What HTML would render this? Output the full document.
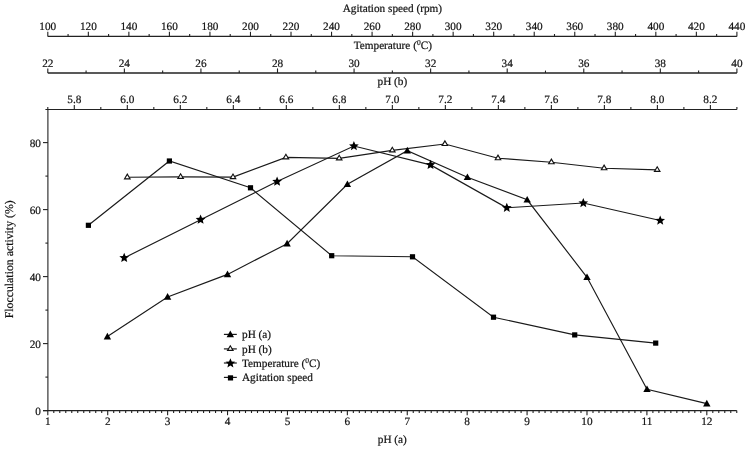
<!DOCTYPE html>
<html><head><meta charset="utf-8"><style>
html,body{margin:0;padding:0;background:#fff;}
body{width:747px;height:449px;overflow:hidden;}
svg{display:block;filter:blur(0.3px);}
text{font-family:"Liberation Serif",serif;fill:#111;stroke:#111;stroke-width:0.2px;text-rendering:geometricPrecision;}
</style></head><body>
<svg width="747" height="449" viewBox="0 0 747 449">
<rect width="747" height="449" fill="#fff"/>
<line x1="47.80" y1="36.40" x2="736.90" y2="36.40" stroke="#222" stroke-width="1.2"/>
<line x1="47.80" y1="36.40" x2="47.80" y2="31.80" stroke="#222" stroke-width="1.1"/>
<text x="47.80" y="29.80" text-anchor="middle" font-size="11.25" >100</text>
<line x1="68.07" y1="36.40" x2="68.07" y2="34.00" stroke="#222" stroke-width="1.1"/>
<line x1="88.34" y1="36.40" x2="88.34" y2="31.80" stroke="#222" stroke-width="1.1"/>
<text x="88.34" y="29.80" text-anchor="middle" font-size="11.25" >120</text>
<line x1="108.60" y1="36.40" x2="108.60" y2="34.00" stroke="#222" stroke-width="1.1"/>
<line x1="128.87" y1="36.40" x2="128.87" y2="31.80" stroke="#222" stroke-width="1.1"/>
<text x="128.87" y="29.80" text-anchor="middle" font-size="11.25" >140</text>
<line x1="149.14" y1="36.40" x2="149.14" y2="34.00" stroke="#222" stroke-width="1.1"/>
<line x1="169.41" y1="36.40" x2="169.41" y2="31.80" stroke="#222" stroke-width="1.1"/>
<text x="169.41" y="29.80" text-anchor="middle" font-size="11.25" >160</text>
<line x1="189.67" y1="36.40" x2="189.67" y2="34.00" stroke="#222" stroke-width="1.1"/>
<line x1="209.94" y1="36.40" x2="209.94" y2="31.80" stroke="#222" stroke-width="1.1"/>
<text x="209.94" y="29.80" text-anchor="middle" font-size="11.25" >180</text>
<line x1="230.21" y1="36.40" x2="230.21" y2="34.00" stroke="#222" stroke-width="1.1"/>
<line x1="250.48" y1="36.40" x2="250.48" y2="31.80" stroke="#222" stroke-width="1.1"/>
<text x="250.48" y="29.80" text-anchor="middle" font-size="11.25" >200</text>
<line x1="270.74" y1="36.40" x2="270.74" y2="34.00" stroke="#222" stroke-width="1.1"/>
<line x1="291.01" y1="36.40" x2="291.01" y2="31.80" stroke="#222" stroke-width="1.1"/>
<text x="291.01" y="29.80" text-anchor="middle" font-size="11.25" >220</text>
<line x1="311.28" y1="36.40" x2="311.28" y2="34.00" stroke="#222" stroke-width="1.1"/>
<line x1="331.55" y1="36.40" x2="331.55" y2="31.80" stroke="#222" stroke-width="1.1"/>
<text x="331.55" y="29.80" text-anchor="middle" font-size="11.25" >240</text>
<line x1="351.81" y1="36.40" x2="351.81" y2="34.00" stroke="#222" stroke-width="1.1"/>
<line x1="372.08" y1="36.40" x2="372.08" y2="31.80" stroke="#222" stroke-width="1.1"/>
<text x="372.08" y="29.80" text-anchor="middle" font-size="11.25" >260</text>
<line x1="392.35" y1="36.40" x2="392.35" y2="34.00" stroke="#222" stroke-width="1.1"/>
<line x1="412.62" y1="36.40" x2="412.62" y2="31.80" stroke="#222" stroke-width="1.1"/>
<text x="412.62" y="29.80" text-anchor="middle" font-size="11.25" >280</text>
<line x1="432.89" y1="36.40" x2="432.89" y2="34.00" stroke="#222" stroke-width="1.1"/>
<line x1="453.15" y1="36.40" x2="453.15" y2="31.80" stroke="#222" stroke-width="1.1"/>
<text x="453.15" y="29.80" text-anchor="middle" font-size="11.25" >300</text>
<line x1="473.42" y1="36.40" x2="473.42" y2="34.00" stroke="#222" stroke-width="1.1"/>
<line x1="493.69" y1="36.40" x2="493.69" y2="31.80" stroke="#222" stroke-width="1.1"/>
<text x="493.69" y="29.80" text-anchor="middle" font-size="11.25" >320</text>
<line x1="513.96" y1="36.40" x2="513.96" y2="34.00" stroke="#222" stroke-width="1.1"/>
<line x1="534.22" y1="36.40" x2="534.22" y2="31.80" stroke="#222" stroke-width="1.1"/>
<text x="534.22" y="29.80" text-anchor="middle" font-size="11.25" >340</text>
<line x1="554.49" y1="36.40" x2="554.49" y2="34.00" stroke="#222" stroke-width="1.1"/>
<line x1="574.76" y1="36.40" x2="574.76" y2="31.80" stroke="#222" stroke-width="1.1"/>
<text x="574.76" y="29.80" text-anchor="middle" font-size="11.25" >360</text>
<line x1="595.03" y1="36.40" x2="595.03" y2="34.00" stroke="#222" stroke-width="1.1"/>
<line x1="615.29" y1="36.40" x2="615.29" y2="31.80" stroke="#222" stroke-width="1.1"/>
<text x="615.29" y="29.80" text-anchor="middle" font-size="11.25" >380</text>
<line x1="635.56" y1="36.40" x2="635.56" y2="34.00" stroke="#222" stroke-width="1.1"/>
<line x1="655.83" y1="36.40" x2="655.83" y2="31.80" stroke="#222" stroke-width="1.1"/>
<text x="655.83" y="29.80" text-anchor="middle" font-size="11.25" >400</text>
<line x1="676.10" y1="36.40" x2="676.10" y2="34.00" stroke="#222" stroke-width="1.1"/>
<line x1="696.36" y1="36.40" x2="696.36" y2="31.80" stroke="#222" stroke-width="1.1"/>
<text x="696.36" y="29.80" text-anchor="middle" font-size="11.25" >420</text>
<line x1="716.63" y1="36.40" x2="716.63" y2="34.00" stroke="#222" stroke-width="1.1"/>
<line x1="736.90" y1="36.40" x2="736.90" y2="31.80" stroke="#222" stroke-width="1.1"/>
<text x="736.90" y="29.80" text-anchor="middle" font-size="11.25" >440</text>
<text x="392.40" y="11.90" text-anchor="middle" font-size="11.25" >Agitation speed (rpm)</text>
<line x1="47.80" y1="73.00" x2="736.90" y2="73.00" stroke="#222" stroke-width="1.45"/>
<line x1="47.80" y1="73.00" x2="47.80" y2="68.40" stroke="#222" stroke-width="1.1"/>
<text x="47.80" y="66.60" text-anchor="middle" font-size="11.25" >22</text>
<line x1="86.08" y1="73.00" x2="86.08" y2="70.60" stroke="#222" stroke-width="1.1"/>
<line x1="124.37" y1="73.00" x2="124.37" y2="68.40" stroke="#222" stroke-width="1.1"/>
<text x="124.37" y="66.60" text-anchor="middle" font-size="11.25" >24</text>
<line x1="162.65" y1="73.00" x2="162.65" y2="70.60" stroke="#222" stroke-width="1.1"/>
<line x1="200.93" y1="73.00" x2="200.93" y2="68.40" stroke="#222" stroke-width="1.1"/>
<text x="200.93" y="66.60" text-anchor="middle" font-size="11.25" >26</text>
<line x1="239.22" y1="73.00" x2="239.22" y2="70.60" stroke="#222" stroke-width="1.1"/>
<line x1="277.50" y1="73.00" x2="277.50" y2="68.40" stroke="#222" stroke-width="1.1"/>
<text x="277.50" y="66.60" text-anchor="middle" font-size="11.25" >28</text>
<line x1="315.78" y1="73.00" x2="315.78" y2="70.60" stroke="#222" stroke-width="1.1"/>
<line x1="354.07" y1="73.00" x2="354.07" y2="68.40" stroke="#222" stroke-width="1.1"/>
<text x="354.07" y="66.60" text-anchor="middle" font-size="11.25" >30</text>
<line x1="392.35" y1="73.00" x2="392.35" y2="70.60" stroke="#222" stroke-width="1.1"/>
<line x1="430.63" y1="73.00" x2="430.63" y2="68.40" stroke="#222" stroke-width="1.1"/>
<text x="430.63" y="66.60" text-anchor="middle" font-size="11.25" >32</text>
<line x1="468.92" y1="73.00" x2="468.92" y2="70.60" stroke="#222" stroke-width="1.1"/>
<line x1="507.20" y1="73.00" x2="507.20" y2="68.40" stroke="#222" stroke-width="1.1"/>
<text x="507.20" y="66.60" text-anchor="middle" font-size="11.25" >34</text>
<line x1="545.48" y1="73.00" x2="545.48" y2="70.60" stroke="#222" stroke-width="1.1"/>
<line x1="583.77" y1="73.00" x2="583.77" y2="68.40" stroke="#222" stroke-width="1.1"/>
<text x="583.77" y="66.60" text-anchor="middle" font-size="11.25" >36</text>
<line x1="622.05" y1="73.00" x2="622.05" y2="70.60" stroke="#222" stroke-width="1.1"/>
<line x1="660.33" y1="73.00" x2="660.33" y2="68.40" stroke="#222" stroke-width="1.1"/>
<text x="660.33" y="66.60" text-anchor="middle" font-size="11.25" >38</text>
<line x1="698.62" y1="73.00" x2="698.62" y2="70.60" stroke="#222" stroke-width="1.1"/>
<line x1="736.90" y1="73.00" x2="736.90" y2="68.40" stroke="#222" stroke-width="1.1"/>
<text x="736.90" y="66.60" text-anchor="middle" font-size="11.25" >40</text>
<text x="392.8" y="48.7" text-anchor="middle" font-size="11.25">Temperature (<tspan font-size="7.5" dy="-4">0</tspan><tspan dy="4">C)</tspan></text>
<line x1="45.40" y1="109.50" x2="736.90" y2="109.50" stroke="#222" stroke-width="1.2"/>
<line x1="47.80" y1="109.50" x2="47.80" y2="107.10" stroke="#222" stroke-width="1.1"/>
<line x1="74.30" y1="109.50" x2="74.30" y2="104.90" stroke="#222" stroke-width="1.1"/>
<text x="74.30" y="103.10" text-anchor="middle" font-size="11.25" >5.8</text>
<line x1="100.81" y1="109.50" x2="100.81" y2="107.10" stroke="#222" stroke-width="1.1"/>
<line x1="127.31" y1="109.50" x2="127.31" y2="104.90" stroke="#222" stroke-width="1.1"/>
<text x="127.31" y="103.10" text-anchor="middle" font-size="11.25" >6.0</text>
<line x1="153.82" y1="109.50" x2="153.82" y2="107.10" stroke="#222" stroke-width="1.1"/>
<line x1="180.32" y1="109.50" x2="180.32" y2="104.90" stroke="#222" stroke-width="1.1"/>
<text x="180.32" y="103.10" text-anchor="middle" font-size="11.25" >6.2</text>
<line x1="206.82" y1="109.50" x2="206.82" y2="107.10" stroke="#222" stroke-width="1.1"/>
<line x1="233.33" y1="109.50" x2="233.33" y2="104.90" stroke="#222" stroke-width="1.1"/>
<text x="233.33" y="103.10" text-anchor="middle" font-size="11.25" >6.4</text>
<line x1="259.83" y1="109.50" x2="259.83" y2="107.10" stroke="#222" stroke-width="1.1"/>
<line x1="286.33" y1="109.50" x2="286.33" y2="104.90" stroke="#222" stroke-width="1.1"/>
<text x="286.33" y="103.10" text-anchor="middle" font-size="11.25" >6.6</text>
<line x1="312.84" y1="109.50" x2="312.84" y2="107.10" stroke="#222" stroke-width="1.1"/>
<line x1="339.34" y1="109.50" x2="339.34" y2="104.90" stroke="#222" stroke-width="1.1"/>
<text x="339.34" y="103.10" text-anchor="middle" font-size="11.25" >6.8</text>
<line x1="365.85" y1="109.50" x2="365.85" y2="107.10" stroke="#222" stroke-width="1.1"/>
<line x1="392.35" y1="109.50" x2="392.35" y2="104.90" stroke="#222" stroke-width="1.1"/>
<text x="392.35" y="103.10" text-anchor="middle" font-size="11.25" >7.0</text>
<line x1="418.85" y1="109.50" x2="418.85" y2="107.10" stroke="#222" stroke-width="1.1"/>
<line x1="445.36" y1="109.50" x2="445.36" y2="104.90" stroke="#222" stroke-width="1.1"/>
<text x="445.36" y="103.10" text-anchor="middle" font-size="11.25" >7.2</text>
<line x1="471.86" y1="109.50" x2="471.86" y2="107.10" stroke="#222" stroke-width="1.1"/>
<line x1="498.37" y1="109.50" x2="498.37" y2="104.90" stroke="#222" stroke-width="1.1"/>
<text x="498.37" y="103.10" text-anchor="middle" font-size="11.25" >7.4</text>
<line x1="524.87" y1="109.50" x2="524.87" y2="107.10" stroke="#222" stroke-width="1.1"/>
<line x1="551.37" y1="109.50" x2="551.37" y2="104.90" stroke="#222" stroke-width="1.1"/>
<text x="551.37" y="103.10" text-anchor="middle" font-size="11.25" >7.6</text>
<line x1="577.88" y1="109.50" x2="577.88" y2="107.10" stroke="#222" stroke-width="1.1"/>
<line x1="604.38" y1="109.50" x2="604.38" y2="104.90" stroke="#222" stroke-width="1.1"/>
<text x="604.38" y="103.10" text-anchor="middle" font-size="11.25" >7.8</text>
<line x1="630.88" y1="109.50" x2="630.88" y2="107.10" stroke="#222" stroke-width="1.1"/>
<line x1="657.39" y1="109.50" x2="657.39" y2="104.90" stroke="#222" stroke-width="1.1"/>
<text x="657.39" y="103.10" text-anchor="middle" font-size="11.25" >8.0</text>
<line x1="683.89" y1="109.50" x2="683.89" y2="107.10" stroke="#222" stroke-width="1.1"/>
<line x1="710.40" y1="109.50" x2="710.40" y2="104.90" stroke="#222" stroke-width="1.1"/>
<text x="710.40" y="103.10" text-anchor="middle" font-size="11.25" >8.2</text>
<line x1="736.90" y1="109.50" x2="736.90" y2="107.10" stroke="#222" stroke-width="1.1"/>
<text x="392.40" y="85.30" text-anchor="middle" font-size="11.25" >pH (b)</text>
<line x1="47.90" y1="109.50" x2="47.90" y2="410.60" stroke="#222" stroke-width="1.1"/>
<line x1="47.90" y1="410.60" x2="43.00" y2="410.60" stroke="#222" stroke-width="1.1"/>
<text x="40.90" y="414.70" text-anchor="end" font-size="11.25" >0</text>
<line x1="47.90" y1="377.10" x2="45.40" y2="377.10" stroke="#222" stroke-width="1.1"/>
<line x1="47.90" y1="343.60" x2="43.00" y2="343.60" stroke="#222" stroke-width="1.1"/>
<text x="40.90" y="347.70" text-anchor="end" font-size="11.25" >20</text>
<line x1="47.90" y1="310.10" x2="45.40" y2="310.10" stroke="#222" stroke-width="1.1"/>
<line x1="47.90" y1="276.60" x2="43.00" y2="276.60" stroke="#222" stroke-width="1.1"/>
<text x="40.90" y="280.70" text-anchor="end" font-size="11.25" >40</text>
<line x1="47.90" y1="243.10" x2="45.40" y2="243.10" stroke="#222" stroke-width="1.1"/>
<line x1="47.90" y1="209.60" x2="43.00" y2="209.60" stroke="#222" stroke-width="1.1"/>
<text x="40.90" y="213.70" text-anchor="end" font-size="11.25" >60</text>
<line x1="47.90" y1="176.10" x2="45.40" y2="176.10" stroke="#222" stroke-width="1.1"/>
<line x1="47.90" y1="142.60" x2="43.00" y2="142.60" stroke="#222" stroke-width="1.1"/>
<text x="40.90" y="146.70" text-anchor="end" font-size="11.25" >80</text>
<text transform="translate(13.0,259.3) rotate(-90)" text-anchor="middle" font-size="11.8">Flocculation activity (%)</text>
<line x1="43.00" y1="410.60" x2="736.76" y2="410.60" stroke="#222" stroke-width="1.3"/>
<line x1="47.80" y1="410.60" x2="47.80" y2="415.20" stroke="#222" stroke-width="1.1"/>
<text x="47.80" y="424.90" text-anchor="middle" font-size="11.25" >1</text>
<line x1="53.79" y1="410.60" x2="53.79" y2="413.00" stroke="#222" stroke-width="1.1"/>
<line x1="59.78" y1="410.60" x2="59.78" y2="413.00" stroke="#222" stroke-width="1.1"/>
<line x1="65.77" y1="410.60" x2="65.77" y2="413.00" stroke="#222" stroke-width="1.1"/>
<line x1="71.76" y1="410.60" x2="71.76" y2="413.00" stroke="#222" stroke-width="1.1"/>
<line x1="77.75" y1="410.60" x2="77.75" y2="413.00" stroke="#222" stroke-width="1.1"/>
<line x1="83.75" y1="410.60" x2="83.75" y2="413.00" stroke="#222" stroke-width="1.1"/>
<line x1="89.74" y1="410.60" x2="89.74" y2="413.00" stroke="#222" stroke-width="1.1"/>
<line x1="95.73" y1="410.60" x2="95.73" y2="413.00" stroke="#222" stroke-width="1.1"/>
<line x1="101.72" y1="410.60" x2="101.72" y2="413.00" stroke="#222" stroke-width="1.1"/>
<line x1="107.71" y1="410.60" x2="107.71" y2="415.20" stroke="#222" stroke-width="1.1"/>
<text x="107.71" y="424.90" text-anchor="middle" font-size="11.25" >2</text>
<line x1="113.70" y1="410.60" x2="113.70" y2="413.00" stroke="#222" stroke-width="1.1"/>
<line x1="119.69" y1="410.60" x2="119.69" y2="413.00" stroke="#222" stroke-width="1.1"/>
<line x1="125.68" y1="410.60" x2="125.68" y2="413.00" stroke="#222" stroke-width="1.1"/>
<line x1="131.67" y1="410.60" x2="131.67" y2="413.00" stroke="#222" stroke-width="1.1"/>
<line x1="137.66" y1="410.60" x2="137.66" y2="413.00" stroke="#222" stroke-width="1.1"/>
<line x1="143.66" y1="410.60" x2="143.66" y2="413.00" stroke="#222" stroke-width="1.1"/>
<line x1="149.65" y1="410.60" x2="149.65" y2="413.00" stroke="#222" stroke-width="1.1"/>
<line x1="155.64" y1="410.60" x2="155.64" y2="413.00" stroke="#222" stroke-width="1.1"/>
<line x1="161.63" y1="410.60" x2="161.63" y2="413.00" stroke="#222" stroke-width="1.1"/>
<line x1="167.62" y1="410.60" x2="167.62" y2="415.20" stroke="#222" stroke-width="1.1"/>
<text x="167.62" y="424.90" text-anchor="middle" font-size="11.25" >3</text>
<line x1="173.61" y1="410.60" x2="173.61" y2="413.00" stroke="#222" stroke-width="1.1"/>
<line x1="179.60" y1="410.60" x2="179.60" y2="413.00" stroke="#222" stroke-width="1.1"/>
<line x1="185.59" y1="410.60" x2="185.59" y2="413.00" stroke="#222" stroke-width="1.1"/>
<line x1="191.58" y1="410.60" x2="191.58" y2="413.00" stroke="#222" stroke-width="1.1"/>
<line x1="197.57" y1="410.60" x2="197.57" y2="413.00" stroke="#222" stroke-width="1.1"/>
<line x1="203.57" y1="410.60" x2="203.57" y2="413.00" stroke="#222" stroke-width="1.1"/>
<line x1="209.56" y1="410.60" x2="209.56" y2="413.00" stroke="#222" stroke-width="1.1"/>
<line x1="215.55" y1="410.60" x2="215.55" y2="413.00" stroke="#222" stroke-width="1.1"/>
<line x1="221.54" y1="410.60" x2="221.54" y2="413.00" stroke="#222" stroke-width="1.1"/>
<line x1="227.53" y1="410.60" x2="227.53" y2="415.20" stroke="#222" stroke-width="1.1"/>
<text x="227.53" y="424.90" text-anchor="middle" font-size="11.25" >4</text>
<line x1="233.52" y1="410.60" x2="233.52" y2="413.00" stroke="#222" stroke-width="1.1"/>
<line x1="239.51" y1="410.60" x2="239.51" y2="413.00" stroke="#222" stroke-width="1.1"/>
<line x1="245.50" y1="410.60" x2="245.50" y2="413.00" stroke="#222" stroke-width="1.1"/>
<line x1="251.49" y1="410.60" x2="251.49" y2="413.00" stroke="#222" stroke-width="1.1"/>
<line x1="257.49" y1="410.60" x2="257.49" y2="413.00" stroke="#222" stroke-width="1.1"/>
<line x1="263.48" y1="410.60" x2="263.48" y2="413.00" stroke="#222" stroke-width="1.1"/>
<line x1="269.47" y1="410.60" x2="269.47" y2="413.00" stroke="#222" stroke-width="1.1"/>
<line x1="275.46" y1="410.60" x2="275.46" y2="413.00" stroke="#222" stroke-width="1.1"/>
<line x1="281.45" y1="410.60" x2="281.45" y2="413.00" stroke="#222" stroke-width="1.1"/>
<line x1="287.44" y1="410.60" x2="287.44" y2="415.20" stroke="#222" stroke-width="1.1"/>
<text x="287.44" y="424.90" text-anchor="middle" font-size="11.25" >5</text>
<line x1="293.43" y1="410.60" x2="293.43" y2="413.00" stroke="#222" stroke-width="1.1"/>
<line x1="299.42" y1="410.60" x2="299.42" y2="413.00" stroke="#222" stroke-width="1.1"/>
<line x1="305.41" y1="410.60" x2="305.41" y2="413.00" stroke="#222" stroke-width="1.1"/>
<line x1="311.40" y1="410.60" x2="311.40" y2="413.00" stroke="#222" stroke-width="1.1"/>
<line x1="317.39" y1="410.60" x2="317.39" y2="413.00" stroke="#222" stroke-width="1.1"/>
<line x1="323.39" y1="410.60" x2="323.39" y2="413.00" stroke="#222" stroke-width="1.1"/>
<line x1="329.38" y1="410.60" x2="329.38" y2="413.00" stroke="#222" stroke-width="1.1"/>
<line x1="335.37" y1="410.60" x2="335.37" y2="413.00" stroke="#222" stroke-width="1.1"/>
<line x1="341.36" y1="410.60" x2="341.36" y2="413.00" stroke="#222" stroke-width="1.1"/>
<line x1="347.35" y1="410.60" x2="347.35" y2="415.20" stroke="#222" stroke-width="1.1"/>
<text x="347.35" y="424.90" text-anchor="middle" font-size="11.25" >6</text>
<line x1="353.34" y1="410.60" x2="353.34" y2="413.00" stroke="#222" stroke-width="1.1"/>
<line x1="359.33" y1="410.60" x2="359.33" y2="413.00" stroke="#222" stroke-width="1.1"/>
<line x1="365.32" y1="410.60" x2="365.32" y2="413.00" stroke="#222" stroke-width="1.1"/>
<line x1="371.31" y1="410.60" x2="371.31" y2="413.00" stroke="#222" stroke-width="1.1"/>
<line x1="377.31" y1="410.60" x2="377.31" y2="413.00" stroke="#222" stroke-width="1.1"/>
<line x1="383.30" y1="410.60" x2="383.30" y2="413.00" stroke="#222" stroke-width="1.1"/>
<line x1="389.29" y1="410.60" x2="389.29" y2="413.00" stroke="#222" stroke-width="1.1"/>
<line x1="395.28" y1="410.60" x2="395.28" y2="413.00" stroke="#222" stroke-width="1.1"/>
<line x1="401.27" y1="410.60" x2="401.27" y2="413.00" stroke="#222" stroke-width="1.1"/>
<line x1="407.26" y1="410.60" x2="407.26" y2="415.20" stroke="#222" stroke-width="1.1"/>
<text x="407.26" y="424.90" text-anchor="middle" font-size="11.25" >7</text>
<line x1="413.25" y1="410.60" x2="413.25" y2="413.00" stroke="#222" stroke-width="1.1"/>
<line x1="419.24" y1="410.60" x2="419.24" y2="413.00" stroke="#222" stroke-width="1.1"/>
<line x1="425.23" y1="410.60" x2="425.23" y2="413.00" stroke="#222" stroke-width="1.1"/>
<line x1="431.22" y1="410.60" x2="431.22" y2="413.00" stroke="#222" stroke-width="1.1"/>
<line x1="437.21" y1="410.60" x2="437.21" y2="413.00" stroke="#222" stroke-width="1.1"/>
<line x1="443.21" y1="410.60" x2="443.21" y2="413.00" stroke="#222" stroke-width="1.1"/>
<line x1="449.20" y1="410.60" x2="449.20" y2="413.00" stroke="#222" stroke-width="1.1"/>
<line x1="455.19" y1="410.60" x2="455.19" y2="413.00" stroke="#222" stroke-width="1.1"/>
<line x1="461.18" y1="410.60" x2="461.18" y2="413.00" stroke="#222" stroke-width="1.1"/>
<line x1="467.17" y1="410.60" x2="467.17" y2="415.20" stroke="#222" stroke-width="1.1"/>
<text x="467.17" y="424.90" text-anchor="middle" font-size="11.25" >8</text>
<line x1="473.16" y1="410.60" x2="473.16" y2="413.00" stroke="#222" stroke-width="1.1"/>
<line x1="479.15" y1="410.60" x2="479.15" y2="413.00" stroke="#222" stroke-width="1.1"/>
<line x1="485.14" y1="410.60" x2="485.14" y2="413.00" stroke="#222" stroke-width="1.1"/>
<line x1="491.13" y1="410.60" x2="491.13" y2="413.00" stroke="#222" stroke-width="1.1"/>
<line x1="497.12" y1="410.60" x2="497.12" y2="413.00" stroke="#222" stroke-width="1.1"/>
<line x1="503.12" y1="410.60" x2="503.12" y2="413.00" stroke="#222" stroke-width="1.1"/>
<line x1="509.11" y1="410.60" x2="509.11" y2="413.00" stroke="#222" stroke-width="1.1"/>
<line x1="515.10" y1="410.60" x2="515.10" y2="413.00" stroke="#222" stroke-width="1.1"/>
<line x1="521.09" y1="410.60" x2="521.09" y2="413.00" stroke="#222" stroke-width="1.1"/>
<line x1="527.08" y1="410.60" x2="527.08" y2="415.20" stroke="#222" stroke-width="1.1"/>
<text x="527.08" y="424.90" text-anchor="middle" font-size="11.25" >9</text>
<line x1="533.07" y1="410.60" x2="533.07" y2="413.00" stroke="#222" stroke-width="1.1"/>
<line x1="539.06" y1="410.60" x2="539.06" y2="413.00" stroke="#222" stroke-width="1.1"/>
<line x1="545.05" y1="410.60" x2="545.05" y2="413.00" stroke="#222" stroke-width="1.1"/>
<line x1="551.04" y1="410.60" x2="551.04" y2="413.00" stroke="#222" stroke-width="1.1"/>
<line x1="557.03" y1="410.60" x2="557.03" y2="413.00" stroke="#222" stroke-width="1.1"/>
<line x1="563.03" y1="410.60" x2="563.03" y2="413.00" stroke="#222" stroke-width="1.1"/>
<line x1="569.02" y1="410.60" x2="569.02" y2="413.00" stroke="#222" stroke-width="1.1"/>
<line x1="575.01" y1="410.60" x2="575.01" y2="413.00" stroke="#222" stroke-width="1.1"/>
<line x1="581.00" y1="410.60" x2="581.00" y2="413.00" stroke="#222" stroke-width="1.1"/>
<line x1="586.99" y1="410.60" x2="586.99" y2="415.20" stroke="#222" stroke-width="1.1"/>
<text x="586.99" y="424.90" text-anchor="middle" font-size="11.25" >10</text>
<line x1="592.98" y1="410.60" x2="592.98" y2="413.00" stroke="#222" stroke-width="1.1"/>
<line x1="598.97" y1="410.60" x2="598.97" y2="413.00" stroke="#222" stroke-width="1.1"/>
<line x1="604.96" y1="410.60" x2="604.96" y2="413.00" stroke="#222" stroke-width="1.1"/>
<line x1="610.95" y1="410.60" x2="610.95" y2="413.00" stroke="#222" stroke-width="1.1"/>
<line x1="616.94" y1="410.60" x2="616.94" y2="413.00" stroke="#222" stroke-width="1.1"/>
<line x1="622.94" y1="410.60" x2="622.94" y2="413.00" stroke="#222" stroke-width="1.1"/>
<line x1="628.93" y1="410.60" x2="628.93" y2="413.00" stroke="#222" stroke-width="1.1"/>
<line x1="634.92" y1="410.60" x2="634.92" y2="413.00" stroke="#222" stroke-width="1.1"/>
<line x1="640.91" y1="410.60" x2="640.91" y2="413.00" stroke="#222" stroke-width="1.1"/>
<line x1="646.90" y1="410.60" x2="646.90" y2="415.20" stroke="#222" stroke-width="1.1"/>
<text x="646.90" y="424.90" text-anchor="middle" font-size="11.25" >11</text>
<line x1="652.89" y1="410.60" x2="652.89" y2="413.00" stroke="#222" stroke-width="1.1"/>
<line x1="658.88" y1="410.60" x2="658.88" y2="413.00" stroke="#222" stroke-width="1.1"/>
<line x1="664.87" y1="410.60" x2="664.87" y2="413.00" stroke="#222" stroke-width="1.1"/>
<line x1="670.86" y1="410.60" x2="670.86" y2="413.00" stroke="#222" stroke-width="1.1"/>
<line x1="676.85" y1="410.60" x2="676.85" y2="413.00" stroke="#222" stroke-width="1.1"/>
<line x1="682.85" y1="410.60" x2="682.85" y2="413.00" stroke="#222" stroke-width="1.1"/>
<line x1="688.84" y1="410.60" x2="688.84" y2="413.00" stroke="#222" stroke-width="1.1"/>
<line x1="694.83" y1="410.60" x2="694.83" y2="413.00" stroke="#222" stroke-width="1.1"/>
<line x1="700.82" y1="410.60" x2="700.82" y2="413.00" stroke="#222" stroke-width="1.1"/>
<line x1="706.81" y1="410.60" x2="706.81" y2="415.20" stroke="#222" stroke-width="1.1"/>
<text x="706.81" y="424.90" text-anchor="middle" font-size="11.25" >12</text>
<line x1="712.80" y1="410.60" x2="712.80" y2="413.00" stroke="#222" stroke-width="1.1"/>
<line x1="718.79" y1="410.60" x2="718.79" y2="413.00" stroke="#222" stroke-width="1.1"/>
<line x1="724.78" y1="410.60" x2="724.78" y2="413.00" stroke="#222" stroke-width="1.1"/>
<line x1="730.77" y1="410.60" x2="730.77" y2="413.00" stroke="#222" stroke-width="1.1"/>
<line x1="736.76" y1="410.60" x2="736.76" y2="413.00" stroke="#222" stroke-width="1.1"/>
<text x="392.30" y="443.20" text-anchor="middle" font-size="11.25" >pH (a)</text>
<path d="M107.40,336.60 L167.60,296.90 L227.50,274.40 L287.10,243.70 L347.40,184.30 L407.30,150.70 L467.40,177.30 L527.20,199.80 L587.00,277.30 L647.00,389.30 L706.80,403.60" fill="none" stroke="#1a1a1a" stroke-width="1.15"/>
<path d="M127.30,177.30 L180.60,176.90 L233.00,177.10 L285.90,157.40 L339.20,158.40 L392.30,150.40 L444.90,144.00 L498.00,158.20 L551.40,162.20 L604.10,168.20 L657.20,169.90" fill="none" stroke="#1a1a1a" stroke-width="1.15"/>
<path d="M124.20,257.90 L200.60,219.70 L277.10,181.60 L353.90,146.00 L430.50,164.90 L506.80,207.80 L583.30,203.00 L660.20,220.50" fill="none" stroke="#1a1a1a" stroke-width="1.15"/>
<path d="M88.40,225.30 L169.40,161.00 L250.50,187.80 L331.70,255.70 L412.50,256.80 L493.50,317.20 L574.70,334.90 L655.70,343.10" fill="none" stroke="#1a1a1a" stroke-width="1.15"/>
<path d="M103.70,339.40 L111.10,339.40 L107.40,332.70Z" fill="#000"/>
<path d="M163.90,299.70 L171.30,299.70 L167.60,293.00Z" fill="#000"/>
<path d="M223.80,277.20 L231.20,277.20 L227.50,270.50Z" fill="#000"/>
<path d="M283.40,246.50 L290.80,246.50 L287.10,239.80Z" fill="#000"/>
<path d="M343.70,187.10 L351.10,187.10 L347.40,180.40Z" fill="#000"/>
<path d="M403.60,153.50 L411.00,153.50 L407.30,146.80Z" fill="#000"/>
<path d="M463.70,180.10 L471.10,180.10 L467.40,173.40Z" fill="#000"/>
<path d="M523.50,202.60 L530.90,202.60 L527.20,195.90Z" fill="#000"/>
<path d="M583.30,280.10 L590.70,280.10 L587.00,273.40Z" fill="#000"/>
<path d="M643.30,392.10 L650.70,392.10 L647.00,385.40Z" fill="#000"/>
<path d="M703.10,406.40 L710.50,406.40 L706.80,399.70Z" fill="#000"/>
<path d="M124.55,178.80 L130.05,178.80 L127.30,174.20Z" fill="#fff" stroke="#111" stroke-width="1.15" stroke-linejoin="miter"/>
<path d="M177.85,178.40 L183.35,178.40 L180.60,173.80Z" fill="#fff" stroke="#111" stroke-width="1.15" stroke-linejoin="miter"/>
<path d="M230.25,178.60 L235.75,178.60 L233.00,174.00Z" fill="#fff" stroke="#111" stroke-width="1.15" stroke-linejoin="miter"/>
<path d="M283.15,158.90 L288.65,158.90 L285.90,154.30Z" fill="#fff" stroke="#111" stroke-width="1.15" stroke-linejoin="miter"/>
<path d="M336.45,159.90 L341.95,159.90 L339.20,155.30Z" fill="#fff" stroke="#111" stroke-width="1.15" stroke-linejoin="miter"/>
<path d="M389.55,151.90 L395.05,151.90 L392.30,147.30Z" fill="#fff" stroke="#111" stroke-width="1.15" stroke-linejoin="miter"/>
<path d="M442.15,145.50 L447.65,145.50 L444.90,140.90Z" fill="#fff" stroke="#111" stroke-width="1.15" stroke-linejoin="miter"/>
<path d="M495.25,159.70 L500.75,159.70 L498.00,155.10Z" fill="#fff" stroke="#111" stroke-width="1.15" stroke-linejoin="miter"/>
<path d="M548.65,163.70 L554.15,163.70 L551.40,159.10Z" fill="#fff" stroke="#111" stroke-width="1.15" stroke-linejoin="miter"/>
<path d="M601.35,169.70 L606.85,169.70 L604.10,165.10Z" fill="#fff" stroke="#111" stroke-width="1.15" stroke-linejoin="miter"/>
<path d="M654.45,171.40 L659.95,171.40 L657.20,166.80Z" fill="#fff" stroke="#111" stroke-width="1.15" stroke-linejoin="miter"/>
<polygon points="124.20,252.80 125.55,256.04 129.05,256.32 126.39,258.61 127.20,262.03 124.20,260.20 121.20,262.03 122.01,258.61 119.35,256.32 122.85,256.04" fill="#000"/>
<polygon points="200.60,214.60 201.95,217.84 205.45,218.12 202.79,220.41 203.60,223.83 200.60,222.00 197.60,223.83 198.41,220.41 195.75,218.12 199.25,217.84" fill="#000"/>
<polygon points="277.10,176.50 278.45,179.74 281.95,180.02 279.29,182.31 280.10,185.73 277.10,183.90 274.10,185.73 274.91,182.31 272.25,180.02 275.75,179.74" fill="#000"/>
<polygon points="353.90,140.90 355.25,144.14 358.75,144.42 356.09,146.71 356.90,150.13 353.90,148.30 350.90,150.13 351.71,146.71 349.05,144.42 352.55,144.14" fill="#000"/>
<polygon points="430.50,159.80 431.85,163.04 435.35,163.32 432.69,165.61 433.50,169.03 430.50,167.20 427.50,169.03 428.31,165.61 425.65,163.32 429.15,163.04" fill="#000"/>
<polygon points="506.80,202.70 508.15,205.94 511.65,206.22 508.99,208.51 509.80,211.93 506.80,210.10 503.80,211.93 504.61,208.51 501.95,206.22 505.45,205.94" fill="#000"/>
<polygon points="583.30,197.90 584.65,201.14 588.15,201.42 585.49,203.71 586.30,207.13 583.30,205.30 580.30,207.13 581.11,203.71 578.45,201.42 581.95,201.14" fill="#000"/>
<polygon points="660.20,215.40 661.55,218.64 665.05,218.92 662.39,221.21 663.20,224.63 660.20,222.80 657.20,224.63 658.01,221.21 655.35,218.92 658.85,218.64" fill="#000"/>
<rect x="85.80" y="222.70" width="5.2" height="5.2" fill="#000"/>
<rect x="166.80" y="158.40" width="5.2" height="5.2" fill="#000"/>
<rect x="247.90" y="185.20" width="5.2" height="5.2" fill="#000"/>
<rect x="329.10" y="253.10" width="5.2" height="5.2" fill="#000"/>
<rect x="409.90" y="254.20" width="5.2" height="5.2" fill="#000"/>
<rect x="490.90" y="314.60" width="5.2" height="5.2" fill="#000"/>
<rect x="572.10" y="332.30" width="5.2" height="5.2" fill="#000"/>
<rect x="653.10" y="340.50" width="5.2" height="5.2" fill="#000"/>
<line x1="223.90" y1="334.40" x2="236.80" y2="334.40" stroke="#1a1a1a" stroke-width="1.2"/>
<path d="M226.60,337.20 L234.00,337.20 L230.30,330.50Z" fill="#000"/>
<text x="242.0" y="338.30" font-size="11.25">pH (a)</text>
<line x1="223.90" y1="348.90" x2="236.80" y2="348.90" stroke="#1a1a1a" stroke-width="1.2"/>
<path d="M227.55,350.40 L233.05,350.40 L230.30,345.80Z" fill="#fff" stroke="#111" stroke-width="1.15" stroke-linejoin="miter"/>
<text x="242.0" y="352.60" font-size="11.25">pH (b)</text>
<line x1="223.90" y1="363.00" x2="236.80" y2="363.00" stroke="#1a1a1a" stroke-width="1.2"/>
<polygon points="230.40,358.20 231.75,361.44 235.25,361.72 232.59,364.01 233.40,367.43 230.40,365.60 227.40,367.43 228.21,364.01 225.55,361.72 229.05,361.44" fill="#000"/>
<text x="242.0" y="366.90" font-size="11.25">Temperature (<tspan font-size="7.5" dy="-4">0</tspan><tspan dy="4">C)</tspan></text>
<line x1="223.90" y1="377.40" x2="236.80" y2="377.40" stroke="#1a1a1a" stroke-width="1.2"/>
<rect x="227.90" y="375.30" width="5.2" height="5.2" fill="#000"/>
<text x="242.0" y="381.20" font-size="11.25">Agitation speed</text>
</svg>
</body></html>
